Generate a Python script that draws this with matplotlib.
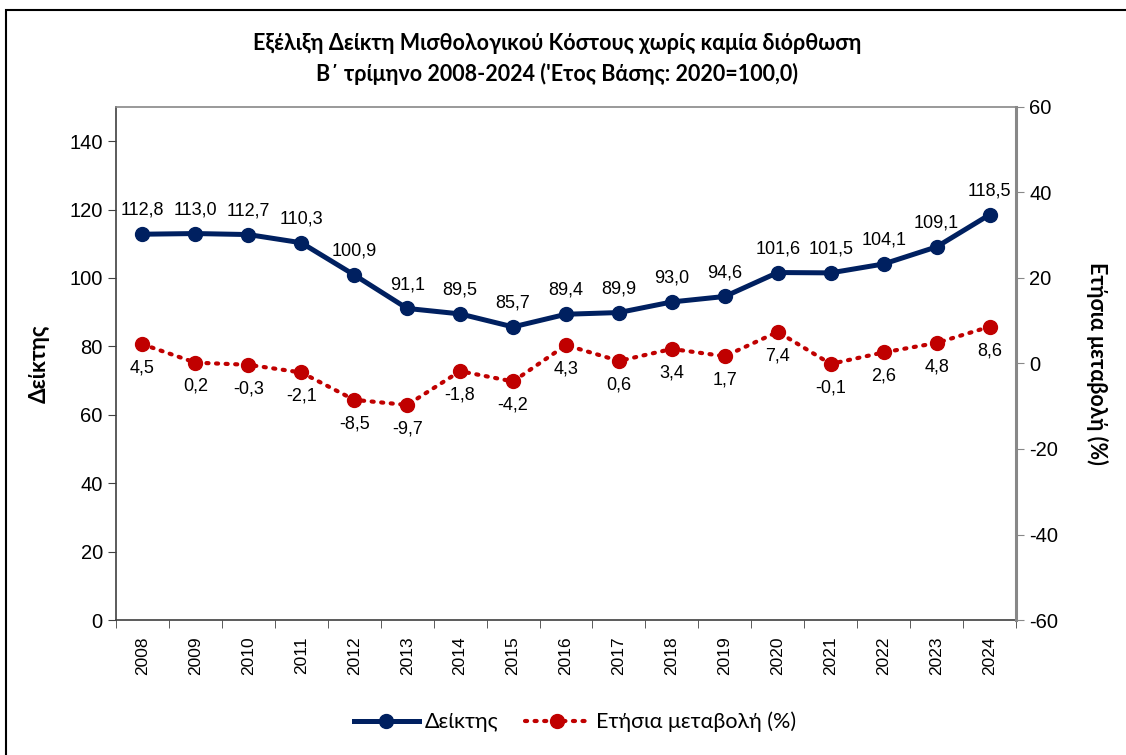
import matplotlib
matplotlib.use("Agg")
import matplotlib.pyplot as plt
from matplotlib.patches import Rectangle

years = ["2008", "2009", "2010", "2011", "2012", "2013", "2014", "2015", "2016",
         "2017", "2018", "2019", "2020", "2021", "2022", "2023", "2024"]
index_vals = [112.8, 113.0, 112.7, 110.3, 100.9, 91.1, 89.5, 85.7, 89.4,
              89.9, 93.0, 94.6, 101.6, 101.5, 104.1, 109.1, 118.5]
change_vals = [4.5, 0.2, -0.3, -2.1, -8.5, -9.7, -1.8, -4.2, 4.3,
               0.6, 3.4, 1.7, 7.4, -0.1, 2.6, 4.8, 8.6]

title = "Εξέλιξη Δείκτη Μισθολογικού Κόστους χωρίς καμία διόρθωση\nΒ΄ τρίμηνο 2008-2024 ('Ετος Βάσης: 2020=100,0)"
navy = "#002060"
red = "#C00000"

def fmt(v):
    return f"{v:.1f}".replace(".", ",")

plt.rcParams['font.family'] = ['Liberation Sans', 'DejaVu Sans']
plt.rcParams['axes.unicode_minus'] = False
fig = plt.figure(figsize=(11.26, 7.55), dpi=100)
W, H = 1126, 755
ax = fig.add_axes([116 / W, 1 - 620 / H, 900 / W, 513 / H])
ax2 = ax.twinx()

x = list(range(len(years)))
l1, = ax.plot(x, index_vals, color=navy, lw=3.6, marker='o', ms=10, zorder=3,
              label="Δείκτης")
l2, = ax2.plot(x, change_vals, color=red, lw=3, ls=(0, (0.5, 1.8)), dash_capstyle='round',
               marker='o', ms=10, zorder=3, label="Ετήσια μεταβολή (%)")

for i, v in enumerate(index_vals):
    ax.annotate(fmt(v), (i, v), xytext=(0, 11), textcoords='offset points',
                ha='center', va='bottom', fontsize=13)
for i, v in enumerate(change_vals):
    ax2.annotate(fmt(v), (i, v), xytext=(0, -11), textcoords='offset points',
                 ha='center', va='top', fontsize=13)

ax.set_xlim(-0.5, len(years) - 0.5)
ax.set_ylim(0, 150)
ax.set_yticks(range(0, 141, 20))
ax2.set_ylim(-60, 60)
ax2.set_yticks(range(-60, 61, 20))

ax.set_xticks(x)
ax.set_xticklabels(years, rotation=90, fontsize=12.5)
ax.set_xticks([i - 0.5 for i in range(len(years) + 1)], minor=True)
ax.tick_params(axis='x', which='major', length=0, pad=12)
ax.tick_params(axis='x', which='minor', length=6, color='#404040', direction='out')
ax.tick_params(axis='y', labelsize=14.5, length=6, color='#404040')
ax2.tick_params(axis='y', labelsize=14.5, length=6, color='#888888')

for s in ['left', 'bottom']:
    ax.spines[s].set_color('#404040')
    ax.spines[s].set_linewidth(1.2)
ax.spines['top'].set_color('#888888')
ax.spines['top'].set_linewidth(1.2)
ax2.spines['top'].set_visible(False)
ax2.spines['left'].set_visible(False)
ax2.spines['bottom'].set_visible(False)
ax.spines['right'].set_visible(False)
ax2.spines['right'].set_color('#888888')
ax2.spines['right'].set_linewidth(2.2)

ax.set_ylabel("Δείκτης", fontsize=16, fontweight='bold', family=['Lato', 'DejaVu Sans'],
              labelpad=14)
ax2.set_ylabel("Ετήσια μεταβολή (%)", fontsize=15.5, fontweight='bold',
               family=['Lato', 'DejaVu Sans'], rotation=270, labelpad=36)

fig.text(557 / W, 1 - 59 / H, title, ha='center', va='center',
         fontsize=15.5, fontweight='bold', family=['Lato', 'DejaVu Sans'], linespacing=1.55)

fig.legend(handles=[l1, l2], loc='center', bbox_to_anchor=(575 / W, 1 - 722 / H),
           ncol=2, frameon=False, prop={'family': ['Lato', 'DejaVu Sans'], 'size': 15.5},
           handlelength=3.0, columnspacing=1.2, handletextpad=0.3)

fig.patches.append(Rectangle((6 / W, -0.05), 1.1, 1 - 10 / H + 0.05,
                             transform=fig.transFigure, fill=False, edgecolor='black',
                             lw=1.5))

fig.savefig("out.png", dpi=100)
